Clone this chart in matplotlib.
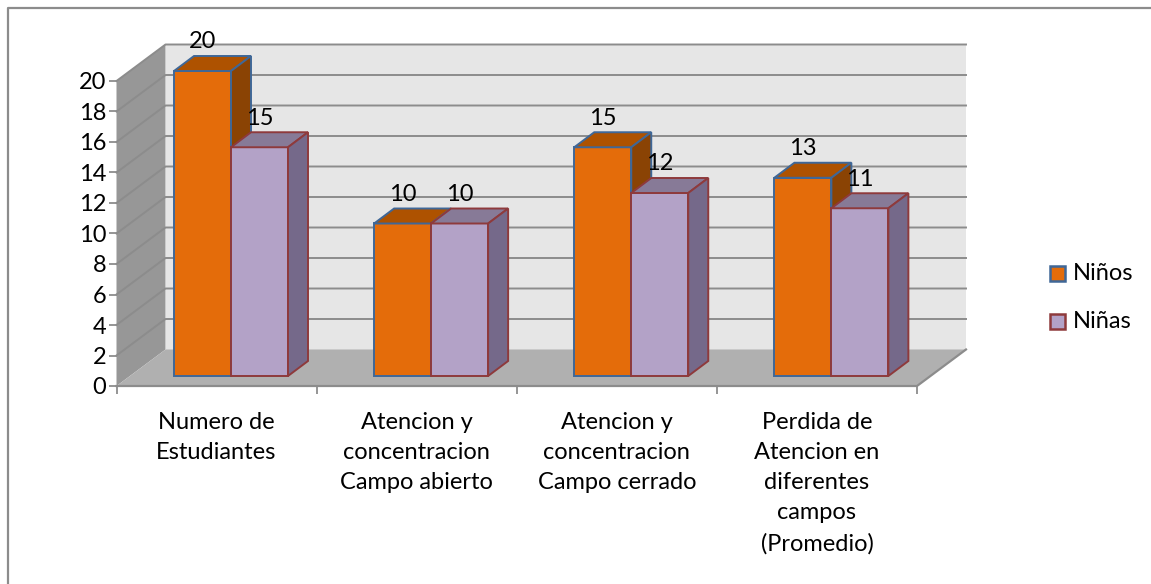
import numpy as np
import matplotlib
matplotlib.use('Agg')
import matplotlib.pyplot as plt
from matplotlib.patches import Polygon, Rectangle

plt.rcParams['font.family'] = ['Lato', 'DejaVu Sans']

categories = ['Numero de\nEstudiantes',
              'Atencion y\nconcentracion\nCampo abierto',
              'Atencion y\nconcentracion\nCampo cerrado',
              'Perdida de\nAtencion en\ndiferentes\ncampos\n(Promedio)']
series_names = ['Niños', 'Niñas']
ninos = [20, 10, 15, 13]
ninas = [15, 10, 12, 11]
y_ticks = list(range(0, 21, 2))

W, H = 1151, 584
FS = 17
fig = plt.figure(figsize=(W / 100, H / 100), dpi=100)

# fondo en pixeles
bg = fig.add_axes([0, 0, 1, 1])
bg.set_xlim(0, W)
bg.set_ylim(H, 0)
bg.axis('off')
bg.plot([8.5, 8.5, 1151], [H, 7.5, 7.5], color='#8c8c8c', lw=1.6)

# ejes: x 116-917, y 386-81 (frente del piso)
x0, x1, y0, y1 = 116.5, 917, 386, 81
ax = fig.add_axes([x0 / W, 1 - y0 / H, (x1 - x0) / W, (y0 - y1) / H])
ax.set_xlim(0, 4)
ax.set_ylim(0, 20)
ax.patch.set_alpha(0)
for s in ax.spines.values():
    s.set_visible(False)

ux = (x1 - x0) / 4       # px por categoria
uy = (y0 - y1) / 20      # px por unidad
dx_wall = 49 / ux        # profundidad de la pared
dy_wall = 36.5 / uy
dx_bar = 20 / ux         # profundidad de la barra
dy_bar = 15 / uy
bar_w = 57 / ux
bar_off = (174 - x0) / ux
bar_base = 10 / uy

# paredes
ax.add_patch(Polygon([(dx_wall, dy_wall), (4 + dx_wall, dy_wall), (4 + dx_wall, 20 + dy_wall), (dx_wall, 20 + dy_wall)],
                     fc='#e6e6e6', ec='none', clip_on=False, zorder=1))
ax.add_patch(Polygon([(0, 0), (dx_wall, dy_wall), (dx_wall, 20 + dy_wall), (0, 20)],
                     fc='#979797', ec='none', clip_on=False, zorder=1))
ax.add_patch(Polygon([(0, 0), (4, 0), (4 + dx_wall, dy_wall), (dx_wall, dy_wall)],
                     fc='#b0b0b0', ec='none', clip_on=False, zorder=1))

# lineas de rejilla
for t in y_ticks[1:]:
    ax.plot([0, dx_wall, 4 + dx_wall], [t, t + dy_wall, t + dy_wall], color='#8c8c8c', lw=1.4,
            clip_on=False, zorder=2)
ax.plot([0, 4, 4 + dx_wall], [0, 0, dy_wall], color='#8c8c8c', lw=1.6, clip_on=False, zorder=2)

colors = [('#e46c0a', '#ae5200', '#8a4304', '#3f6797'),
          ('#b3a2c7', '#877a97', '#75698a', '#8e3a3c')]


def draw_bar(left, val, c, z):
    front, top, side, edge = c
    b = bar_base
    r = left + bar_w
    ax.bar(left, val, width=bar_w, bottom=b, align='edge', color=front, edgecolor=edge, linewidth=1.4,
           clip_on=False, zorder=z)
    ax.add_patch(Polygon([(left, b + val), (r, b + val), (r + dx_bar, b + val + dy_bar), (left + dx_bar, b + val + dy_bar)],
                         fc=top, ec=edge, lw=1.4, clip_on=False, zorder=z))
    ax.add_patch(Polygon([(r, b), (r + dx_bar, b + dy_bar), (r + dx_bar, b + val + dy_bar), (r, b + val)],
                         fc=side, ec=edge, lw=1.4, clip_on=False, zorder=z))
    ax.text(left + bar_w / 2, b + val + 29 / uy, str(val), ha='center', va='center',
            fontsize=FS, color='black', clip_on=False, zorder=20)


for i in range(len(categories)):
    draw_bar(i + bar_off, ninos[i], colors[0], 3 + i * 2)
    draw_bar(i + bar_off + bar_w, ninas[i], colors[1], 4 + i * 2)

# ticks
ax.set_yticks(y_ticks)
ax.set_xticks(range(5))
ax.set_xticklabels([])
ax.tick_params(axis='both', length=6, width=1.3, color='#8c8c8c', labelsize=FS, labelcolor='black')
ax.tick_params(axis='y', pad=1.5)
for i, c in enumerate(categories):
    ax.text(i + 0.5, -1.7, c, ha='center', va='top', fontsize=FS, linespacing=1.54, color='black')

# leyenda
for n, ly, c in zip(series_names, [273.5, 321.5], colors):
    bg.add_patch(Rectangle((1050.5, ly - 7.5), 15, 15, fc=c[0], ec=c[3], lw=1.8))
    bg.text(1072.5, ly, n, ha='left', va='center', fontsize=FS, color='black')

fig.savefig('out.png', dpi=100)
